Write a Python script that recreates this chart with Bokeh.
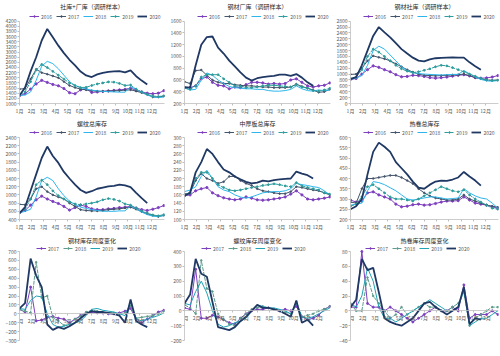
from bokeh.plotting import figure
from bokeh.models import Legend, LegendItem, Label, FixedTicker, Range1d
from bokeh.layouts import gridplot
from bokeh.embed import file_html
from bokeh.resources import INLINE

# ---------------- data (biweekly samples, 10k tonnes) ----------------
month_labels = ["1月", "2月", "3月", "4月", "5月", "6月", "7月", "8月", "9月", "10月", "11月", "12月"]
years_stock = ["2016", "2017", "2018", "2019", "2020"]
years_chg = ["2017", "2018", "2019", "2020"]

# 社库+厂库（调研样本）
total_2016 = [1300, 1380, 1560, 1760, 1900, 1820, 1740, 1690, 1580, 1420, 1380, 1530, 1560, 1430, 1450, 1470, 1490, 1510, 1530, 1550, 1600, 1510, 1450, 1400, 1380, 1400, 1500]
total_2017 = [1560, 1580, 1950, 2330, 2200, 2140, 2070, 2000, 1850, 1700, 1620, 1560, 1530, 1500, 1480, 1470, 1480, 1490, 1500, 1520, 1530, 1480, 1420, 1350, 1250, 1250, 1290]
total_2018 = [1310, 1330, 1450, 1900, 2450, 2640, 2550, 2350, 2100, 1850, 1700, 1620, 1560, 1520, 1490, 1470, 1460, 1450, 1440, 1440, 1650, 1550, 1430, 1330, 1260, 1230, 1250]
total_2019 = [1350, 1450, 1850, 2300, 2520, 2400, 2250, 2100, 1950, 1800, 1700, 1620, 1630, 1700, 1760, 1800, 1840, 1830, 1780, 1700, 1720, 1560, 1450, 1360, 1290, 1270, 1300]
total_2020 = [1311, 1620, 2250, 2800, 3450, 3900, 3580, 3250, 2960, 2700, 2480, 2240, 2090, 2030, 2130, 2190, 2230, 2250, 2260, 2210, 2290, 2060, 1890, 1740]

# 钢材厂库（调研样本）
mill_2016 = [470, 470, 500, 620, 650, 560, 510, 500, 450, 480, 470, 520, 560, 560, 550, 530, 540, 530, 540, 600, 620, 560, 500, 480, 500, 510, 550]
mill_2017 = [570, 540, 760, 770, 680, 600, 560, 540, 540, 520, 510, 500, 500, 490, 480, 480, 470, 470, 470, 480, 530, 490, 460, 430, 390, 400, 440]
mill_2018 = [470, 430, 440, 600, 720, 680, 600, 540, 490, 470, 460, 450, 450, 440, 440, 420, 410, 410, 420, 440, 500, 450, 420, 410, 430, 420, 430]
mill_2019 = [460, 440, 500, 650, 690, 690, 690, 620, 560, 500, 490, 470, 470, 480, 500, 510, 510, 500, 490, 480, 520, 480, 460, 420, 410, 430, 460]
mill_2020 = [480, 470, 850, 1200, 1330, 1340, 1150, 1050, 930, 830, 730, 640, 590, 630, 650, 660, 670, 690, 690, 670, 700, 640, 560, 500]

# 钢材社库（调研样本）
social_2016 = [820, 850, 1000, 1150, 1280, 1230, 1150, 1080, 980, 910, 920, 960, 950, 920, 880, 860, 880, 900, 930, 960, 980, 940, 880, 860, 870, 900, 950]
social_2017 = [990, 1000, 1200, 1450, 1620, 1570, 1520, 1450, 1350, 1250, 1150, 1070, 1000, 960, 950, 940, 950, 960, 970, 980, 1000, 950, 880, 840, 800, 790, 800]
social_2018 = [830, 860, 950, 1300, 1800, 1950, 1850, 1650, 1450, 1250, 1120, 1050, 1020, 1000, 990, 980, 970, 980, 990, 990, 1120, 1010, 900, 820, 770, 760, 780]
social_2019 = [850, 900, 1150, 1600, 1850, 1750, 1600, 1450, 1300, 1180, 1100, 1050, 1080, 1130, 1180, 1250, 1300, 1280, 1220, 1150, 1080, 1000, 930, 860, 800, 780, 790]
social_2020 = [830, 900, 1300, 1800, 2300, 2600, 2420, 2250, 2050, 1850, 1700, 1560, 1460, 1430, 1500, 1540, 1550, 1560, 1570, 1560, 1560, 1400, 1270, 1150]

# 螺纹总库存
rebar_2016 = [580, 620, 750, 880, 970, 900, 840, 790, 720, 630, 690, 750, 720, 660, 640, 640, 660, 670, 690, 700, 720, 680, 640, 620, 650, 690, 740]
rebar_2017 = [770, 760, 900, 1150, 1200, 1080, 1000, 950, 900, 800, 720, 640, 620, 610, 610, 620, 640, 650, 660, 680, 700, 650, 590, 540, 500, 470, 500]
rebar_2018 = [560, 600, 650, 950, 1350, 1430, 1350, 1150, 980, 850, 760, 700, 670, 640, 620, 600, 600, 600, 610, 610, 730, 660, 580, 520, 480, 470, 500]
rebar_2019 = [580, 650, 900, 1250, 1360, 1250, 1100, 980, 900, 830, 780, 760, 780, 800, 830, 880, 910, 890, 850, 780, 750, 680, 610, 560, 510, 490, 520]
rebar_2020 = [550, 700, 1100, 1500, 1900, 2180, 1950, 1780, 1560, 1400, 1250, 1120, 1050, 1090, 1150, 1180, 1210, 1220, 1250, 1230, 1190, 1050, 920, 800]

# 中厚板总库存
plate_2016 = [158, 160, 170, 175, 178, 165, 158, 153, 150, 148, 150, 155, 152, 148, 147, 148, 150, 152, 155, 162, 170, 160, 150, 148, 150, 152, 155]
plate_2017 = [162, 165, 195, 212, 200, 195, 188, 192, 205, 205, 195, 188, 183, 175, 170, 168, 165, 163, 163, 168, 180, 178, 175, 172, 170, 165, 160]
plate_2018 = [168, 172, 180, 205, 220, 200, 180, 172, 168, 160, 155, 152, 155, 160, 165, 167, 168, 168, 170, 175, 188, 185, 183, 180, 178, 170, 160]
plate_2019 = [160, 165, 200, 215, 215, 200, 185, 178, 172, 170, 172, 175, 178, 180, 183, 185, 187, 185, 182, 180, 190, 182, 178, 175, 172, 165, 162]
plate_2020 = [158, 165, 215, 240, 272, 260, 240, 222, 215, 205, 198, 192, 188, 190, 195, 193, 196, 198, 199, 200, 217, 212, 208, 200]

# 热卷总库存
hrc_2016 = [295, 285, 290, 330, 335, 320, 310, 300, 275, 262, 265, 272, 275, 270, 272, 278, 285, 290, 290, 292, 310, 295, 280, 275, 270, 262, 255]
hrc_2017 = [285, 280, 350, 400, 400, 405, 410, 415, 415, 405, 390, 375, 350, 330, 315, 305, 300, 295, 295, 300, 320, 300, 290, 280, 270, 265, 260]
hrc_2018 = [270, 275, 280, 340, 385, 380, 370, 355, 340, 320, 300, 295, 300, 305, 310, 310, 305, 300, 302, 305, 350, 330, 315, 305, 300, 280, 255]
hrc_2019 = [265, 275, 310, 360, 370, 350, 330, 310, 300, 300, 295, 290, 300, 315, 330, 345, 360, 350, 340, 335, 345, 320, 300, 285, 270, 255, 250]
hrc_2020 = [250, 265, 300, 420, 530, 575, 555, 530, 480, 450, 420, 385, 355, 350, 370, 385, 390, 388, 395, 405, 432, 410, 390, 365]

# 钢材库存周度变化
chg_all_2017 = [50, 20, 300, -80, -70, -40, -30, -50, -60, -100, -60, -20, 10, 20, 10, 10, 0, 0, 10, 30, 60, -60, -100, -60, -20, 20, 40]
chg_all_2018 = [50, 30, 10, 580, 180, 200, -40, -80, -130, -120, -60, -30, 20, 40, 30, 20, 10, 10, 0, 10, 90, -50, -40, -30, -20, 0, 30]
chg_all_2019 = [60, 50, 150, 200, 190, 0, -120, -150, -140, -120, -100, -80, -20, 50, 60, 40, 30, 20, 0, -20, 130, -60, -80, -60, -40, -20, 10]
chg_all_2020 = [60, 120, 620, 430, 300, -120, -180, -150, -170, -140, -100, -50, 0, 30, 20, 20, 10, 0, -20, -100, 160, -80, -120, -150]

# 螺纹库存周度变化
chg_rebar_2017 = [20, 10, 280, -50, -50, -30, -40, -60, -80, -90, -50, -20, 0, 10, 10, 20, 10, 0, 10, 0, 30, -40, -60, -50, -30, 10, 30]
chg_rebar_2018 = [40, 20, -20, 340, 150, 130, -20, -60, -90, -100, -50, -20, 10, 20, 30, 20, 10, 0, -10, -20, 60, -40, -30, -20, 0, 10, 30]
chg_rebar_2019 = [50, 40, 130, 200, 120, 0, -90, -110, -100, -80, -70, -50, 0, 40, 30, 20, 20, 10, 0, -20, 50, -40, -50, -40, -20, 0, 20]
chg_rebar_2020 = [50, 110, 350, 250, 230, 60, -110, -120, -130, -110, -70, -40, 0, 40, 20, 20, 10, 0, -20, -40, 70, -80, -60, -100]

# 热卷库存周度变化
chg_hrc_2017 = [5, 5, 80, 10, 5, 5, 0, 5, 0, -5, -10, -15, -10, -5, 0, 5, 0, 0, 5, 0, 35, -10, -5, -5, -5, 0, -5]
chg_hrc_2018 = [10, 0, 0, 45, 20, 10, 0, -10, -5, 5, -5, 0, 5, 10, 5, 5, 0, 0, 5, 10, 25, -20, -10, -5, 0, 5, 5]
chg_hrc_2019 = [10, 5, 20, 58, 40, 5, -10, -10, -15, -10, -5, 0, 5, 10, 15, 10, 5, 0, 0, 5, 28, -20, -15, -10, -10, -5, 0]
chg_hrc_2020 = [5, 15, 70, 55, 58, 25, -10, -15, -18, -20, -15, -10, 0, 10, 12, 5, 0, -5, 0, 5, 32, -18, -10, -12]

# ---------------- styling ----------------
FONT = "Noto Sans CJK SC"
stock_styles = {
    "2016": dict(color="#7E3FBF", width=1.0, dash="solid", marker=2.2),
    "2017": dict(color="#44546A", width=1.0, dash="solid", marker=1.6),
    "2018": dict(color="#2DB6EC", width=1.0, dash="solid", marker=0),
    "2019": dict(color="#2E9C9C", width=1.0, dash="4 1", marker=1.8),
    "2020": dict(color="#1F3864", width=1.8, dash="solid", marker=0),
}
chg_styles = {
    "2017": dict(color="#7E3FBF", width=1.0, dash="solid", marker=2.0),
    "2018": dict(color="#5E9C8C", width=1.0, dash="4 1", marker=1.6),
    "2019": dict(color="#1FA3B5", width=1.0, dash="solid", marker=0),
    "2020": dict(color="#1F3864", width=1.8, dash="solid", marker=0),
}

BR, BT = 2, 1
X0, X1 = 1, 13.05


def xs_for(vals):
    # biweekly samples placed on a month axis (1 = start of Jan, 13 = end of Dec)
    return [1 + i * 12 / 26 for i in range(len(vals))]


def panel(title, ylo, yhi, ystep, series, years, styles, w, h, bl, bottom, head,
          title_dy, legend_dy, legend_x):
    # head: pixels between frame top and the top tick (room for title + legend)
    fh = h - BT - bottom
    data_px = fh - head
    ytop = yhi + (yhi - ylo) * head / data_px
    p = figure(width=w, height=h, x_range=Range1d(X0, X1), y_range=Range1d(ylo, ytop),
               output_backend="svg", toolbar_location=None, title=None,
               min_border_left=bl, min_border_right=BR, min_border_top=BT,
               min_border_bottom=bottom)
    p.outline_line_color = None
    p.xgrid.grid_line_color = None
    p.ygrid.grid_line_color = None
    items = []
    for yr, vals in zip(years, series):
        st = styles[yr]
        xs = xs_for(vals)
        r = p.line(xs, vals, line_color=st["color"], line_width=st["width"], line_dash=st["dash"])
        rs = [r]
        if st["marker"]:
            m = p.scatter(xs, vals, size=st["marker"], color=st["color"])
            rs.append(m)
        items.append(LegendItem(label=yr, renderers=rs))
    p.yaxis.ticker = FixedTicker(ticks=list(range(ylo, yhi + 1, ystep)))
    p.yaxis.bounds = (ylo, yhi)
    p.xaxis.ticker = FixedTicker(ticks=list(range(1, 13)))
    p.xaxis.major_label_overrides = {i + 1: lab for i, lab in enumerate(month_labels)}
    for ax in (p.xaxis, p.yaxis):
        ax.axis_line_color = "#BFBFBF"
        ax.axis_line_width = 0.8
        ax.major_tick_line_color = "#BFBFBF"
        ax.major_tick_out = 2
        ax.major_tick_in = 0
        ax.minor_tick_line_color = None
        ax.major_label_text_font_size = "5px"
        ax.major_label_text_color = "#595959"
        ax.major_label_text_font = FONT
        ax.major_label_standoff = 1
    # legend location is the legend's bottom-left corner, measured from the frame's bottom-left
    leg = Legend(items=items, orientation="horizontal", location=(legend_x, fh - legend_dy),
                 label_text_font_size="5px", label_text_font=FONT, label_text_color="#595959",
                 glyph_width=10, glyph_height=4, label_height=5, label_width=11,
                 label_standoff=2, spacing=4, padding=0, margin=0,
                 border_line_color=None, background_fill_alpha=0)
    p.add_layout(leg)
    # title placed in data units so its position is exact
    ty = ytop - (ytop - ylo) * title_dy / fh
    p.add_layout(Label(x=(X0 + X1) / 2, y=ty, x_units="data", y_units="data",
                       text=title, text_align="center", text_baseline="middle",
                       text_font_size="6px", text_font=FONT, text_color="#262626"))
    return p


W = [166, 166, 168]
row1 = [
    panel("社库+厂库（调研样本）", 1000, 4200, 200,
          [total_2016, total_2017, total_2018, total_2019, total_2020], years_stock, stock_styles,
          W[0], 118, 19, 15, 19.7, 4.5, 18.5, 10),
    panel("钢材厂库（调研样本）", 200, 1600, 200,
          [mill_2016, mill_2017, mill_2018, mill_2019, mill_2020], years_stock, stock_styles,
          W[1], 118, 18, 15, 19.7, 4.5, 18.5, 13),
    panel("钢材社库（调研样本）", 0, 2800, 200,
          [social_2016, social_2017, social_2018, social_2019, social_2020], years_stock, stock_styles,
          W[2], 118, 18, 15, 19.7, 4.5, 18.5, 13),
]
row2 = [
    panel("螺纹总库存", 400, 2400, 200,
          [rebar_2016, rebar_2017, rebar_2018, rebar_2019, rebar_2020], years_stock, stock_styles,
          W[0], 118, 19, 17, 18, 4, 16.5, 10),
    panel("中厚板总库存", 100, 300, 20,
          [plate_2016, plate_2017, plate_2018, plate_2019, plate_2020], years_stock, stock_styles,
          W[1], 118, 18, 17, 18, 4, 16.5, 13),
    panel("热卷总库存", 200, 600, 50,
          [hrc_2016, hrc_2017, hrc_2018, hrc_2019, hrc_2020], years_stock, stock_styles,
          W[2], 118, 18, 17, 18, 4, 16.5, 13),
]
row3 = [
    panel("钢材库存周度变化", -300, 700, 100,
          [chg_all_2017, chg_all_2018, chg_all_2019, chg_all_2020], years_chg, chg_styles,
          W[0], 120, 16, 16, 14, 3, 14.5, 17),
    panel("螺纹库存周度变化", -200, 400, 100,
          [chg_rebar_2017, chg_rebar_2018, chg_rebar_2019, chg_rebar_2020], years_chg, chg_styles,
          W[1], 120, 17, 16, 14, 3, 14.5, 17),
    panel("热卷库存周度变化", -40, 80, 20,
          [chg_hrc_2017, chg_hrc_2018, chg_hrc_2019, chg_hrc_2020], years_chg, chg_styles,
          W[2], 120, 18, 16, 14, 3, 14.5, 15),
]
for p in row3:
    p.xaxis.fixed_location = 0

grid = gridplot([row1, row2, row3], toolbar_location=None)
open("out.html", "w").write(file_html(grid, INLINE))
